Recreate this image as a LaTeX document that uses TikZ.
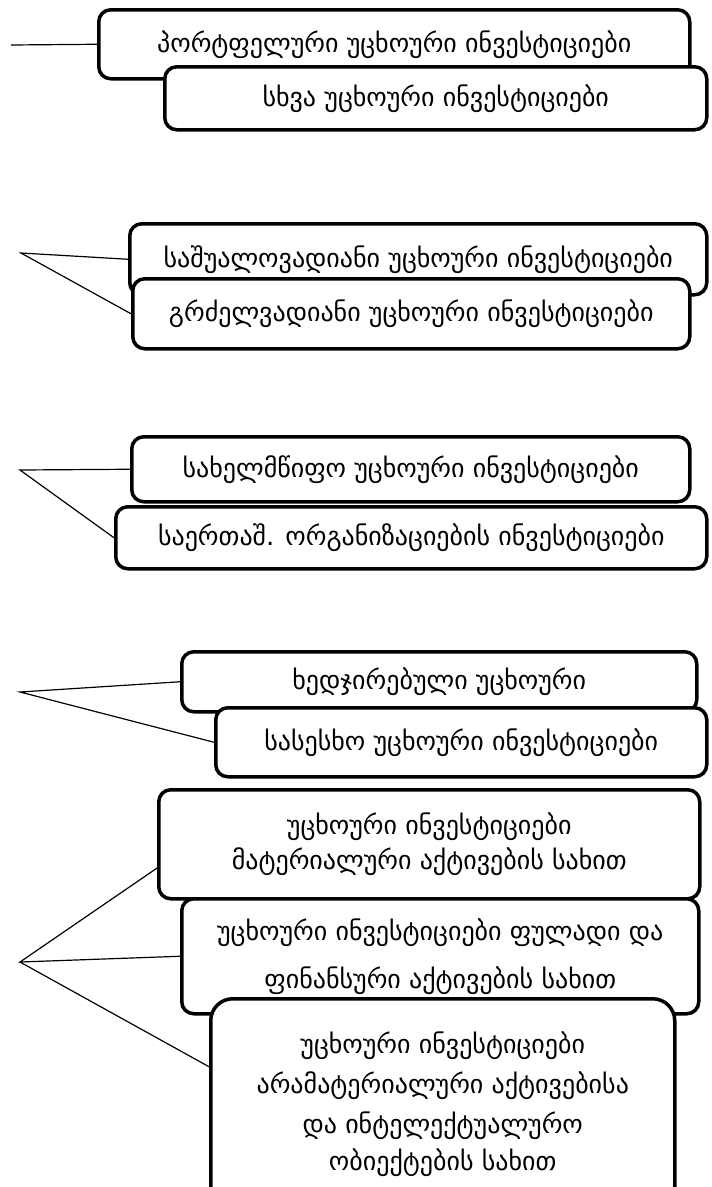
\documentclass[tikz,border=0pt]{standalone}
\usepackage{fontspec}
\setmainfont{DejaVu Sans}
\usepackage{tikz}
\usetikzlibrary{positioning}
\tikzset{
    %Define style for boxes
    ujra/.style={
           rectangle,
           rounded corners=12pt,
           draw=black, line width=3.5pt,
           fill=white,
           anchor=north west,
           align=center,
           inner sep=0pt,
           font=\fontsize{26}{30}\selectfont},
    % Define line style
    xazi/.style={
           draw=black,
           line width=1.2pt}
}
\begin{document}
\begin{tikzpicture}[x=1pt,y=-1pt]
\useasboundingbox (0,0) rectangle (712,1187);
 %group 1
\node[ujra, minimum width=591pt, minimum height=69pt] (b1) at (97,8) {პორტფელური უცხოური ინვესტიციები};
\node[ujra, minimum width=542pt, minimum height=63pt] (b2) at (163,65) {სხვა უცხოური ინვესტიციები};
\coordinate (k1) at (11,45);
\draw[xazi] (k1) -- (b1.west);
 %group 2
\node[ujra, minimum width=577pt, minimum height=71pt] (b3) at (128,222) {საშუალოვადიანი უცხოური ინვესტიციები};
\node[ujra, minimum width=557pt, minimum height=70pt] (b4) at (131,277) {გრძელვადიანი უცხოური ინვესტიციები};
\coordinate (k2) at (21,253);
\draw[xazi] (b3.west) -- (k2) -- (b4.west);
 %group 3
\node[ujra, minimum width=558pt, minimum height=65pt] (b5) at (130,435) {სახელმწიფო უცხოური ინვესტიციები};
\node[ujra, minimum width=591pt, minimum height=62pt] (b6) at (114,505) {საერთაშ. ორგანიზაციების ინვესტიციები};
\coordinate (k3) at (20,470);
\draw[xazi] (b5.west) -- (k3) -- (b6.west);
 %group 4
\node[ujra, minimum width=515pt, minimum height=60pt] (b7) at (180,650) {ხედჯირებული უცხოური};
\node[ujra, minimum width=491pt, minimum height=69pt] (b8) at (214,706) {სასესხო უცხოური ინვესტიციები};
\coordinate (k4) at (20,692);
\draw[xazi] (b7.west) -- (k4) -- (b8.west);
 %group 5
\node[ujra, minimum width=541pt, minimum height=109pt] (b9) at (157,788) {უცხოური ინვესტიციები\\[5pt]მატერიალური აქტივების სახით};
\node[ujra, minimum width=517pt, minimum height=115pt] (b10) at (180,897) {უცხოური ინვესტიციები ფულადი და\\[18pt]ფინანსური აქტივების სახით};
\node[ujra, rounded corners=22pt, minimum width=464pt, minimum height=210pt] (b11) at (209,997) {უცხოური ინვესტიციები\\[10pt]არამატერიალური აქტივებისა\\[10pt]და ინტელექტუალურო\\[7pt]ობიექტების სახით};
\coordinate (k5) at (20,962);
\draw[xazi] (b9.185) -- (k5) -- (b10.west);
\draw[xazi] (k5) -- (b11.171);
\end{tikzpicture}
\end{document}
